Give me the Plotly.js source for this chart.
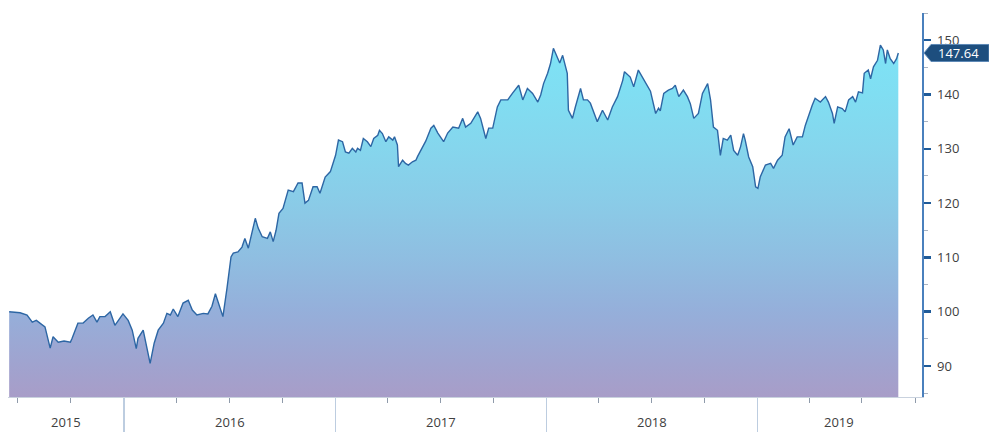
<!DOCTYPE html>
<html>
<head>
<meta charset="utf-8">
<script src="https://cdn.plot.ly/plotly-3.0.1.min.js"></script>
<style>
  html, body { margin: 0; padding: 0; background: #ffffff; }
  #chart { width: 989px; height: 432px; }
</style>
</head>
<body>
<div id="chart"></div>
<script>
// ---- data ----
const dates = [
  '2015-06-16','2015-06-25','2015-07-05','2015-07-17','2015-07-26','2015-08-02','2015-08-09','2015-08-17','2015-08-26','2015-08-31',
  '2015-09-09','2015-09-19','2015-09-30','2015-10-03','2015-10-13','2015-10-22','2015-10-31','2015-11-08','2015-11-15','2015-11-20',
  '2015-11-29','2015-12-08','2015-12-16','2015-12-22','2015-12-30',
  '2016-01-08','2016-01-15','2016-01-22','2016-01-25','2016-02-03','2016-02-08','2016-02-15','2016-02-22','2016-02-29','2016-03-09',
  '2016-03-15','2016-03-21','2016-03-26','2016-04-03','2016-04-12','2016-04-21','2016-04-28','2016-05-06','2016-05-17','2016-05-25',
  '2016-06-01','2016-06-07','2016-06-15','2016-06-20','2016-06-27','2016-07-04','2016-07-08','2016-07-16','2016-07-23','2016-07-28',
  '2016-08-03','2016-08-10','2016-08-15','2016-08-20','2016-08-27','2016-09-05','2016-09-10','2016-09-15','2016-09-20','2016-09-25',
  '2016-10-02','2016-10-11','2016-10-20','2016-10-28','2016-11-04','2016-11-09','2016-11-15','2016-11-23','2016-11-30','2016-12-05',
  '2016-12-14','2016-12-23',
  '2017-01-01','2017-01-06','2017-01-13','2017-01-18','2017-01-24','2017-01-30','2017-02-05','2017-02-08','2017-02-13','2017-02-18',
  '2017-02-25','2017-03-03','2017-03-08','2017-03-15','2017-03-18','2017-03-23','2017-03-29','2017-04-03','2017-04-10','2017-04-13',
  '2017-04-18','2017-04-20','2017-04-27','2017-05-02','2017-05-07','2017-05-14','2017-05-20','2017-05-23','2017-05-28','2017-06-06',
  '2017-06-15','2017-06-20','2017-06-27','2017-07-07','2017-07-14','2017-07-23','2017-08-02','2017-08-09','2017-08-14','2017-08-23',
  '2017-09-04','2017-09-09','2017-09-18','2017-09-23','2017-09-30','2017-10-08','2017-10-14','2017-10-26','2017-11-03','2017-11-09',
  '2017-11-14','2017-11-21','2017-11-29','2017-12-08','2017-12-17','2017-12-22','2017-12-27',
  '2018-01-03','2018-01-08','2018-01-13','2018-01-20','2018-01-24','2018-01-29','2018-02-01','2018-02-06','2018-02-08','2018-02-15',
  '2018-02-20','2018-03-01','2018-03-06','2018-03-13','2018-03-18','2018-03-30','2018-04-08','2018-04-17','2018-04-25','2018-05-04',
  '2018-05-13','2018-05-16','2018-05-26','2018-06-01','2018-06-09','2018-06-16','2018-06-25','2018-06-30','2018-07-09','2018-07-14',
  '2018-07-17','2018-07-23','2018-07-31','2018-08-07','2018-08-12','2018-08-18','2018-08-26','2018-09-02','2018-09-07','2018-09-13',
  '2018-09-21','2018-09-28','2018-10-07','2018-10-12','2018-10-17','2018-10-24','2018-10-29','2018-11-03','2018-11-10','2018-11-16',
  '2018-11-21','2018-11-28','2018-12-03','2018-12-08','2018-12-11','2018-12-17','2018-12-24','2018-12-29',
  '2019-01-02','2019-01-06','2019-01-15','2019-01-24','2019-01-29','2019-02-05','2019-02-13','2019-02-18','2019-02-25','2019-03-04',
  '2019-03-11','2019-03-20','2019-03-25','2019-03-30','2019-04-06','2019-04-11','2019-04-20','2019-04-29','2019-05-04','2019-05-11',
  '2019-05-14','2019-05-20','2019-05-28','2019-06-02','2019-06-08','2019-06-15','2019-06-20','2019-06-25','2019-07-02','2019-07-05',
  '2019-07-12','2019-07-16','2019-07-21','2019-07-28','2019-08-02','2019-08-07','2019-08-11','2019-08-14','2019-08-19','2019-08-25',
  '2019-08-30','2019-09-02'
];

const values = [
  100.0, 99.9, 99.8, 99.4, 98.1, 98.4, 97.9, 97.2, 93.3, 95.4,
  94.4, 94.6, 94.4, 95.1, 97.9, 97.9, 98.8, 99.4, 98.1, 99.1,
  99.1, 100.0, 97.5, 98.4, 99.6,
  98.4, 96.6, 93.2, 95.1, 96.6, 93.8, 90.5, 94.2, 96.6, 97.9,
  99.7, 99.4, 100.5, 99.1, 101.6, 102.1, 100.3, 99.4, 99.7, 99.6,
  101.0, 103.3, 100.8, 99.1, 104.3, 110.1, 110.8, 111.0, 111.9, 113.5,
  111.7, 115.0, 117.2, 115.4, 113.8, 113.5, 114.7, 112.9, 115.0, 118.1,
  119.0, 122.4, 122.1, 123.7, 123.7, 120.0, 120.5, 123.0, 123.0, 121.8,
  124.8, 125.8,
  128.8, 131.6, 131.3, 129.4, 129.2, 130.1, 129.4, 130.1, 129.7, 131.9,
  131.3, 130.4, 131.9, 132.5, 133.4, 132.8, 131.3, 132.2, 131.6, 132.2,
  130.7, 126.7, 127.9, 127.3, 127.0, 127.6, 127.9, 128.6, 129.7, 131.4,
  133.8, 134.3, 132.9, 131.3, 132.9, 134.0, 133.8, 135.6, 134.0, 134.7,
  136.8, 135.6, 131.9, 133.8, 133.8, 137.7, 139.0, 139.0, 140.2, 141.1,
  141.7, 139.0, 141.1, 140.2, 138.6, 139.9, 142.0,
  143.9, 145.7, 148.5, 146.9, 145.8, 147.2, 145.9, 143.9, 137.1, 135.6,
  137.7, 141.1, 139.0, 139.0, 138.4, 135.0, 137.1, 135.3, 137.7, 139.6,
  142.6, 144.2, 143.2, 141.4, 144.5, 143.2, 141.5, 140.6, 136.5, 137.5,
  137.0, 140.2, 140.8, 141.1, 141.7, 139.6, 140.8, 139.6, 138.3, 135.6,
  136.5, 140.2, 142.0, 139.0, 134.0, 133.4, 128.8, 131.9, 131.6, 132.5,
  129.7, 128.8, 130.4, 132.8, 131.6, 128.5, 126.7, 123.0,
  122.7, 124.8, 127.0, 127.3, 126.4, 127.9, 128.8, 132.2, 133.7, 130.7,
  132.2, 132.2, 134.3, 135.9, 138.0, 139.3, 138.6, 139.6, 138.6, 136.5,
  134.7, 137.7, 137.4, 136.8, 139.0, 139.6, 138.6, 140.5, 140.3, 143.9,
  144.5, 142.9, 145.1, 146.3, 149.1, 148.2, 145.7, 148.2, 146.6, 145.7,
  146.6, 147.64
];

const yearLabels = ['2015', '2016', '2017', '2018', '2019'];
const xRange = ['2015-06-14', '2019-10-13'];
const yRange = [84.3, 155];
const yTickStep = 10;

// ---- build ----
const fillScale = [
  [0.00, '#a89dc8'],
  [0.09, '#a0a3cf'],
  [0.24, '#95afda'],
  [0.39, '#8fbee1'],
  [0.54, '#8acbe7'],
  [0.70, '#85d6ed'],
  [0.85, '#80def2'],
  [1.00, '#7ee3f6']
];

const trace = {
  type: 'scatter',
  mode: 'lines',
  x: dates,
  y: values,
  line: { color: '#2d66a4', width: 1.4 },
  fill: 'tozeroy',
  fillgradient: { type: 'vertical', colorscale: fillScale, start: yRange[0], stop: 150 },
  hoverinfo: 'skip'
};

// year labels centred on the visible part of each year
const r0 = Date.parse(xRange[0]), r1 = Date.parse(xRange[1]);
const annotations = yearLabels.map(y => {
  const s = Math.max(Date.parse(y + '-01-01'), r0);
  const e = Math.min(Date.parse((+y + 1) + '-01-01'), r1);
  const mid = new Date((s + e) / 2).toISOString().slice(0, 10);
  return {
    x: mid, xref: 'x', y: 0, yref: 'paper', yanchor: 'bottom', yshift: -35,
    borderpad: 0,
    text: y, showarrow: false,
    font: { family: 'Open Sans, sans-serif', size: 13, color: '#404040' }
  };
});

const lastVal = values[values.length - 1];
annotations.push({
  x: 1, xref: 'paper', xanchor: 'center', xshift: 36,
  y: lastVal, yref: 'y', yanchor: 'middle',
  text: lastVal.toFixed(2), showarrow: false,
  font: { family: 'Open Sans, sans-serif', size: 13, color: '#ffffff' }
});

const shapes = [{
  type: 'path', layer: 'above',
  xref: 'paper', xsizemode: 'pixel', xanchor: 1,
  yref: 'y', ysizemode: 'pixel', yanchor: lastVal,
  path: 'M2,0 L9,8.5 L67,8.5 L67,-8.5 L9,-8.5 Z',
  fillcolor: '#1d4e7e',
  line: { color: '#5d88b6', width: 1 }
}];

const layout = {
  width: 989, height: 432,
  margin: { l: 8, r: 67, t: 13, b: 35 },
  paper_bgcolor: '#ffffff', plot_bgcolor: '#ffffff',
  showlegend: false,
  xaxis: {
    type: 'date', range: xRange,
    showgrid: false, zeroline: false,
    showline: true, linecolor: '#c9d2de', linewidth: 1,
    ticks: 'outside', tickmode: 'linear', tick0: '2015-01-01', dtick: 'M12',
    ticklen: 35, tickwidth: 1.5, tickcolor: '#bdcde0',
    showticklabels: false,
    minor: {
      tickmode: 'linear', tick0: '2015-01-01', dtick: 'M3',
      ticks: 'outside', ticklen: 5, tickwidth: 1, tickcolor: '#8f9bab', showgrid: false
    }
  },
  yaxis: {
    side: 'right', range: yRange,
    showgrid: false, zeroline: false,
    showline: true, linecolor: '#4a80bd', linewidth: 1.5,
    ticks: 'outside', tickmode: 'linear', tick0: 90, dtick: yTickStep,
    ticklen: 7, tickwidth: 2.5, tickcolor: '#1f5b99',
    ticklabelstandoff: 4,
    tickfont: { family: 'Open Sans, sans-serif', size: 13, color: '#404040' },
    minor: {
      tickmode: 'linear', tick0: 85, dtick: yTickStep,
      ticks: 'outside', ticklen: 4, tickwidth: 1, tickcolor: '#aab4c2', showgrid: false
    }
  },
  annotations: annotations,
  shapes: shapes
};

Plotly.newPlot('chart', [trace], layout, { staticPlot: true, displayModeBar: false });
</script>
</body>
</html>
